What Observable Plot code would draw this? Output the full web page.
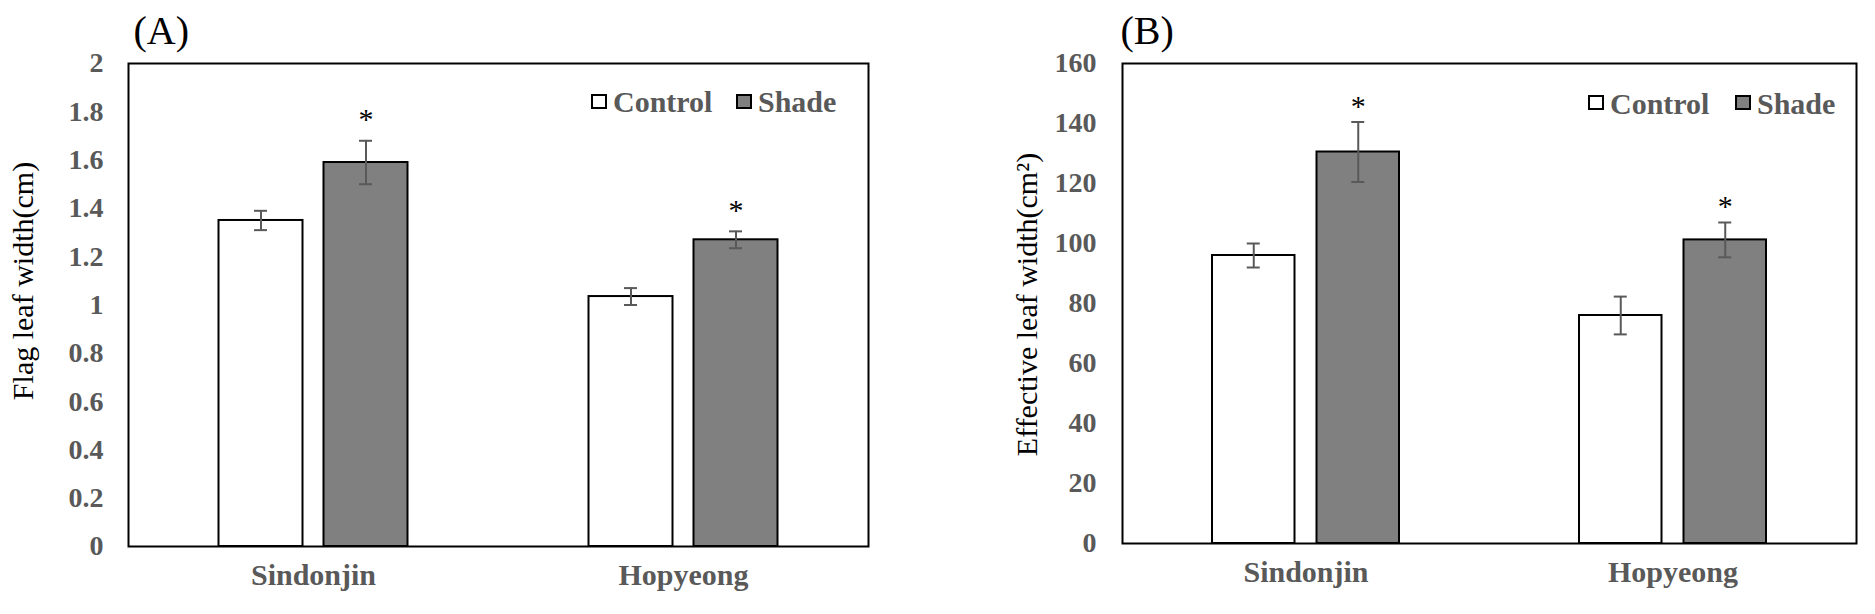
<!DOCTYPE html>
<html><head><meta charset="utf-8">
<script src="https://cdn.jsdelivr.net/npm/d3@7"></script>
<script src="https://cdn.jsdelivr.net/npm/@observablehq/plot@0.6"></script>
<style>
body{margin:0;background:#fff;}
#wrap{position:relative;width:1875px;height:614px;overflow:hidden;background:#fff;font-family:"Liberation Serif","Times New Roman",serif;}
.panel{position:absolute;top:0;}
.panel svg, .panel svg text{font-family:"Liberation Serif","Times New Roman",serif !important;}
.sw{position:absolute;box-sizing:border-box;width:16px;height:15px;border:2px solid #000;}
.lt{position:absolute;font-family:"Liberation Serif","Times New Roman",serif;font-weight:bold;font-size:30px;line-height:30px;color:#595959;white-space:nowrap;}
</style></head><body><div id="wrap"></div>
<script>
// ---- data ----
const categories = ["Sindonjin", "Hopyeong"];
const treatments = ["Control", "Shade"];
const treatmentFill = ["#ffffff", "#808080"];

// (A) Flag leaf width (cm)
const flagControl   = [1.35, 1.035];
const flagControlSE = [0.04, 0.035];
const flagShade     = [1.59, 1.27];
const flagShadeSE   = [0.09, 0.035];
const flagShadeSig  = [true, true];
const flagTicks = [0, 0.2, 0.4, 0.6, 0.8, 1, 1.2, 1.4, 1.6, 1.8, 2];

// (B) Effective leaf width (cm²)
const effControl   = [96, 76];
const effControlSE = [4, 6.3];
const effShade     = [130.5, 101.2];
const effShadeSE   = [10, 5.8];
const effShadeSig  = [true, true];
const effTicks = [0, 20, 40, 60, 80, 100, 120, 140, 160];

const FONT = "Liberation Serif";

function rowsOf(ctrl, ctrlSE, shade, shadeSE, sig) {
  const rows = [];
  categories.forEach((c, i) => {
    rows.push({category: c, treatment: treatments[0], mean: ctrl[i], se: ctrlSE[i], sig: false});
    rows.push({category: c, treatment: treatments[1], mean: shade[i], se: shadeSE[i], sig: sig[i]});
  });
  return rows;
}

function panel(o) {
  const bw = (o.width - o.marginLeft - o.marginRight) / categories.length;
  const off = o.gap / 2 + o.barW / 2;
  const cap = 13;
  const marks = [];
  treatments.forEach((t, k) => {
    const rows = o.rows.filter(d => d.treatment === t);
    const sign = k === 0 ? -1 : 1;
    const insetNear = bw / 2 + o.gap / 2;
    const insetFar = bw / 2 - o.gap / 2 - o.barW;
    marks.push(Plot.barY(rows, {
      x: "category", y: "mean", fill: treatmentFill[k], stroke: "#000", strokeWidth: 2,
      insetLeft: k === 0 ? insetFar : insetNear,
      insetRight: k === 0 ? insetNear : insetFar
    }));
    marks.push(Plot.ruleX(rows, {
      x: "category", y1: d => d.mean - d.se, y2: d => d.mean + d.se,
      stroke: "#595959", strokeWidth: 2, dx: sign * off
    }));
    for (const s of [-1, 1]) {
      marks.push(Plot.tickY(rows, {
        x: "category", y: d => d.mean + s * d.se,
        insetLeft: bw / 2 - cap / 2, insetRight: bw / 2 - cap / 2,
        stroke: "#595959", strokeWidth: 2, dx: sign * off
      }));
    }
    marks.push(Plot.text(rows.filter(d => d.sig), {
      x: "category", y: d => d.mean + d.se, text: () => "*",
      fontSize: 30, fontFamily: FONT, fill: "#000", dx: sign * off, dy: o.starDy
    }));
  });
  marks.push(Plot.frame({stroke: "#000", strokeWidth: 2}));
  marks.push(Plot.axisY({
    ticks: o.ticks, tickFormat: d => String(d), tickSize: 0, tickPadding: o.tickPadding,
    fontSize: 28, fontWeight: "bold", fontFamily: FONT, color: "#595959", label: null
  }));
  marks.push(Plot.axisX({
    tickSize: 0, tickPadding: 17, fontSize: 30, fontWeight: "bold", fontFamily: FONT, color: "#595959", label: null
  }));
  marks.push(Plot.text([o.title], {
    frameAnchor: "left", text: d => d, rotate: -90, fontSize: 30, fontFamily: FONT, fill: "#000",
    textAnchor: "middle", lineAnchor: "middle",
    dx: o.titleDx, dy: o.titleDy
  }));
  marks.push(Plot.text([o.tag], {
    frameAnchor: "top-left", text: d => d, textAnchor: "start", lineAnchor: "middle",
    fontSize: 40, fontFamily: FONT, fill: "#000",
    dx: o.tagDx, dy: -32.5
  }));
  return Plot.plot({
    width: o.width, height: 614,
    marginLeft: o.marginLeft, marginRight: o.marginRight, marginTop: 63, marginBottom: o.marginBottom,
    style: {fontFamily: "'Liberation Serif', 'Times New Roman', serif", background: "#fff", overflow: "visible"},
    x: {domain: categories, padding: 0},
    y: {domain: o.domain},
    marks
  });
}

const wrap = document.getElementById("wrap");
function place(node, left) {
  const d = document.createElement("div");
  d.className = "panel"; d.style.left = left + "px";
  d.appendChild(node); wrap.appendChild(d);
}

place(panel({
  rows: rowsOf(flagControl, flagControlSE, flagShade, flagShadeSE, flagShadeSig),
  ticks: flagTicks, domain: [0, 2], title: "Flag leaf width(cm)", tag: "(A)",
  width: 940, marginLeft: 128, marginRight: 72, marginBottom: 68,
  barW: 84, gap: 21, tickPadding: 25, titleDx: -105.5, titleDy: -24, tagDx: 5, starDy: -21
}), 0);

place(panel({
  rows: rowsOf(effControl, effControlSE, effShade, effShadeSE, effShadeSig),
  ticks: effTicks, domain: [0, 160], title: "Effective leaf width(cm\u00B2)", tag: "(B)",
  width: 935, marginLeft: 182, marginRight: 19, marginBottom: 71,
  barW: 82.5, gap: 22, tickPadding: 26, titleDx: -95.5, titleDy: 1, tagDx: -2, starDy: -16
}), 940);

// in-frame legends
function legend(items) {
  items.forEach(([k, sqLeft, txtLeft, cy]) => {
    const s = document.createElement("div");
    s.className = "sw"; s.style.left = sqLeft + "px"; s.style.top = (cy - 7.5) + "px";
    s.style.background = treatmentFill[k];
    wrap.appendChild(s);
    const t = document.createElement("div");
    t.className = "lt"; t.textContent = treatments[k];
    t.style.left = txtLeft + "px"; t.style.top = (cy - 14) + "px";
    wrap.appendChild(t);
  });
}
legend([[0, 591, 613, 101], [1, 736, 758, 101]]);
legend([[0, 1588, 1610, 102.5], [1, 1735, 1757, 102.5]]);
</script></body></html>
